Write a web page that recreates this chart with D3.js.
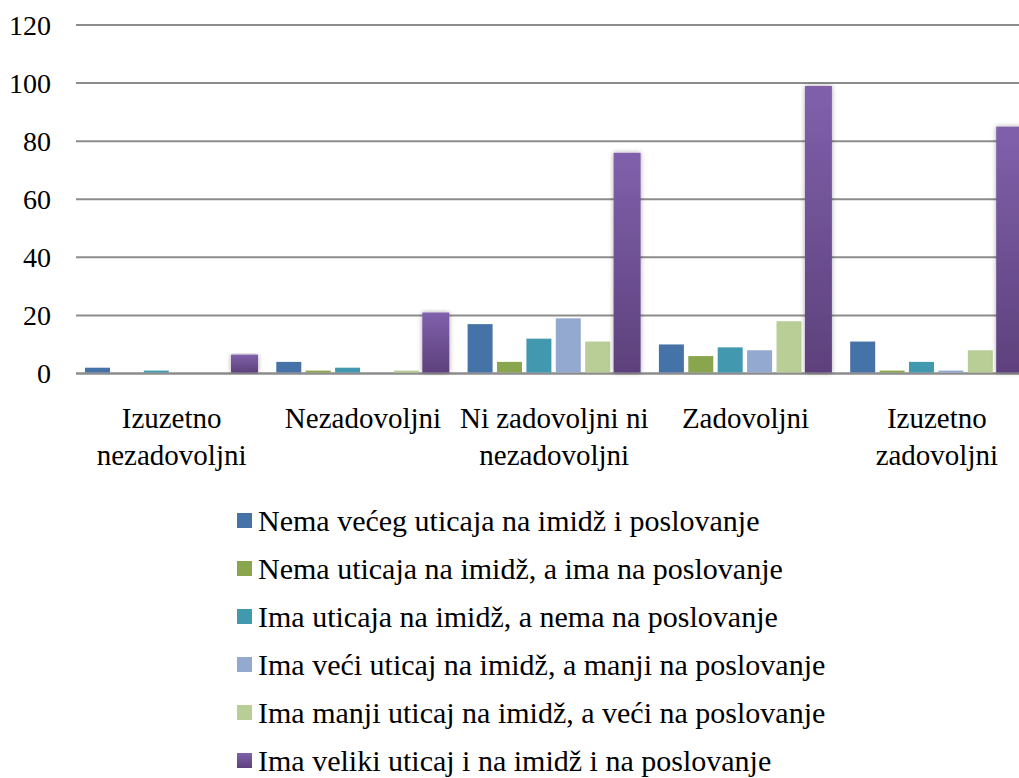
<!DOCTYPE html>
<html>
<head>
<meta charset="utf-8">
<script src="https://cdn.jsdelivr.net/npm/d3@7"></script>
<style>
  body { margin: 0; background: #fff; }
</style>
</head>
<body>
<div id="chart"></div>
<script>
// categorie (righe dell'etichetta) e serie
var categories = ["Izuzetno nezadovoljni", "Nezadovoljni", "Ni zadovoljni ni nezadovoljni", "Zadovoljni", "Izuzetno zadovoljni"];
var categoryLines = [["Izuzetno", "nezadovoljni"], ["Nezadovoljni"], ["Ni zadovoljni ni", "nezadovoljni"], ["Zadovoljni"], ["Izuzetno", "zadovoljni"]];
var seriesNames = [
  "Nema većeg uticaja na imidž i poslovanje",
  "Nema uticaja na imidž, a ima na poslovanje",
  "Ima uticaja na imidž, a nema na poslovanje",
  "Ima veći uticaj na imidž, a manji na poslovanje",
  "Ima manji uticaj na imidž, a veći na poslovanje",
  "Ima veliki uticaj i na imidž i na poslovanje"
];
var seriesColors = ["#4572a7", "#89a54e", "#4198af", "#93a9cf", "#b9cd96", "#71588f"];
// valori per serie, nell'ordine delle categorie
var s1 = [2, 4, 17, 10, 11];
var s2 = [0, 1, 4, 6, 1];
var s3 = [1, 2, 12, 9, 4];
var s4 = [0, 0, 19, 8, 1];
var s5 = [0, 1, 11, 18, 8];
var s6 = [6.5, 21, 76, 99, 85];
var yTicks = [0, 20, 40, 60, 80, 100, 120];

var values = [s1, s2, s3, s4, s5, s6];

var W = 1019, H = 778;
var FONT = "Liberation Serif, DejaVu Serif, serif";
var svg = d3.select("#chart").append("svg")
  .attr("width", W).attr("height", H)
  .style("font-family", FONT);

var defs = svg.append("defs");
var grad = defs.append("linearGradient").attr("id", "purpleGrad")
  .attr("x1", 0).attr("y1", 0).attr("x2", 0).attr("y2", 1);
grad.append("stop").attr("offset", "0%").attr("stop-color", "#8060ab");
grad.append("stop").attr("offset", "100%").attr("stop-color", "#5d417c");
var shadow = defs.append("filter").attr("id", "glow")
  .attr("x", "-30%").attr("y", "-5%").attr("width", "160%").attr("height", "110%");
shadow.append("feGaussianBlur").attr("in", "SourceAlpha").attr("stdDeviation", 2.5).attr("result", "b");
shadow.append("feComponentTransfer").attr("in", "b").attr("result", "b2")
  .append("feFuncA").attr("type", "linear").attr("slope", 0.35);
var merge = shadow.append("feMerge");
merge.append("feMergeNode").attr("in", "b2");
merge.append("feMergeNode").attr("in", "SourceGraphic");

// scale
var x0 = d3.scaleBand().domain(categories).range([76, 76 + 5 * 191.3]).padding(0);
var x1 = d3.scaleBand().domain(d3.range(seriesNames.length)).range([9, 181]).paddingInner(0.15).paddingOuter(0);
var y = d3.scaleLinear().domain([0, 120]).range([373.5, 25]);

// griglia
svg.append("g")
  .selectAll("line")
  .data(yTicks)
  .enter()
  .append("line")
  .attr("x1", 76).attr("x2", W)
  .attr("y1", function (d) { return y(d); })
  .attr("y2", function (d) { return y(d); })
  .attr("stroke", "#8c8c8c")
  .attr("stroke-width", function (d) { return d === 0 ? 2.5 : 2; });

// etichette asse Y
svg.append("g")
  .selectAll("text")
  .data(yTicks)
  .enter()
  .append("text")
  .attr("x", 51)
  .attr("y", function (d) { return y(d); })
  .attr("dy", "0.34em")
  .attr("text-anchor", "end")
  .style("font-size", "28px")
  .text(function (d) { return d; });

// barre
var groups = svg.append("g")
  .selectAll("g")
  .data(categories)
  .enter()
  .append("g")
  .attr("transform", function (d) { return "translate(" + x0(d) + ",0)"; });

groups.selectAll("rect")
  .data(function (d, ci) {
    return values.map(function (s, si) { return {si: si, v: s[ci]}; });
  })
  .enter()
  .filter(function (d) { return d.v > 0; })
  .append("rect")
  .attr("x", function (d) { return x1(d.si) - (d.si === 5 ? 1 : 0); })
  .attr("width", function (d) { return x1.bandwidth() + (d.si === 5 ? 2 : 0); })
  .attr("y", function (d) { return y(d.v); })
  .attr("height", function (d) { return y(0) - y(d.v) - 1; })
  .attr("fill", function (d) { return d.si === 5 ? "url(#purpleGrad)" : seriesColors[d.si]; })
  .attr("filter", function (d) { return d.si === 5 ? "url(#glow)" : null; });

// etichette categorie
var catLabels = svg.append("g")
  .selectAll("text")
  .data(categories)
  .enter()
  .append("text")
  .attr("text-anchor", "middle")
  .style("font-size", "29px");

catLabels.selectAll("tspan")
  .data(function (d, i) { return categoryLines[i].map(function (l) { return {c: d, l: l}; }); })
  .enter()
  .append("tspan")
  .attr("x", function (d) { return x0(d.c) + x0.bandwidth() / 2; })
  .attr("y", function (d, i) { return 428 + i * 37; })
  .text(function (d) { return d.l; });

// legenda
var legend = svg.append("g")
  .selectAll("g")
  .data(seriesNames)
  .enter()
  .append("g")
  .attr("transform", function (d, i) { return "translate(237," + (520 + i * 48) + ")"; });

legend.append("rect")
  .attr("x", 0).attr("y", -7)
  .attr("width", 15).attr("height", 15)
  .attr("fill", function (d, i) { return i === 5 ? "url(#purpleGrad)" : seriesColors[i]; });

legend.append("text")
  .attr("x", 21).attr("y", 11)
  .style("font-size", "30px")
  .text(function (d) { return d; });
</script>
</body>
</html>
